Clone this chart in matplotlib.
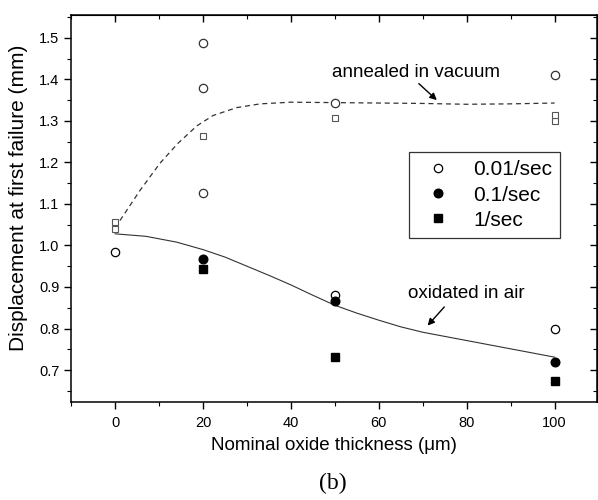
import numpy as np
from matplotlib import pyplot as plt
from matplotlib.ticker import MultipleLocator

plt.rcParams['font.family'] = ['Liberation Sans', 'DejaVu Sans']

# annealed in vacuum
vac_circ_x = [20, 20, 20, 50, 100]
vac_circ_y = [1.487, 1.379, 1.126, 1.342, 1.410]
vac_sq_x = [0, 0, 20, 50, 100, 100]
vac_sq_y = [1.040, 1.057, 1.263, 1.306, 1.300, 1.315]
vac_curve_x = [1.1, 5.7, 10.2, 14.3, 18.6, 22.3, 27.7, 33.0, 40.0, 50.0, 60.0, 70.0, 80.0, 90.0, 100.0]
vac_curve_y = [1.060, 1.133, 1.198, 1.246, 1.288, 1.313, 1.332, 1.341, 1.345, 1.344, 1.343, 1.342, 1.340, 1.341, 1.343]

# oxidated in air
slow_x = [0, 50, 100]
slow_y = [0.985, 0.880, 0.798]
mid_x = [20, 50, 100]
mid_y = [0.967, 0.867, 0.719]
fast_x = [20, 50, 100]
fast_y = [0.943, 0.732, 0.674]
air_curve_x = [0, 7, 14, 20, 25, 30, 35, 40, 45, 50, 55, 60, 65, 70, 80, 90, 100]
air_curve_y = [1.028, 1.022, 1.008, 0.990, 0.972, 0.950, 0.928, 0.905, 0.880, 0.856, 0.837,
               0.820, 0.804, 0.791, 0.771, 0.751, 0.731]

legend_labels = ['0.01/sec', '0.1/sec', '1/sec']

fig = plt.figure(figsize=(5.98, 5.0), dpi=100)
ax = fig.add_axes([0.119, 0.196, 0.879, 0.774])

ax.plot(vac_curve_x, vac_curve_y, '--', color='#333333', linewidth=0.9, dashes=(4, 3))
ax.plot(air_curve_x, air_curve_y, '-', color='#333333', linewidth=0.8)

ax.plot(vac_circ_x, vac_circ_y, 'o', markerfacecolor='white', markeredgecolor='#333333',
        markersize=6, markeredgewidth=0.9, linestyle='none')
ax.plot(vac_sq_x, vac_sq_y, 's', markerfacecolor='white', markeredgecolor='#555555',
        markersize=5, markeredgewidth=0.8, linestyle='none')

h1, = ax.plot(slow_x, slow_y, 'o', markerfacecolor='white', markeredgecolor='black',
              markersize=6, markeredgewidth=0.9, linestyle='none')
h2, = ax.plot(mid_x, mid_y, 'o', color='black', markersize=6.2, linestyle='none')
h3, = ax.plot(fast_x, fast_y, 's', color='black', markersize=5.3, linestyle='none')

ax.annotate('annealed in vacuum', xy=(73.2, 1.350), xytext=(49.3, 1.417),
            fontsize=13.5, va='center', ha='left',
            arrowprops=dict(arrowstyle='-|>', color='black', lw=1.0, shrinkA=0, shrinkB=0,
                            mutation_scale=10, relpos=(0.5, 0)))
ax.annotate('oxidated in air', xy=(71.1, 0.807), xytext=(66.6, 0.884),
            fontsize=13.5, va='center', ha='left',
            arrowprops=dict(arrowstyle='-|>', color='black', lw=1.0, shrinkA=2, shrinkB=0,
                            mutation_scale=10, relpos=(0.35, 0)))

leg = ax.legend([h1, h2, h3], legend_labels, loc='upper left', bbox_to_anchor=(0.6426, 0.646),
                borderaxespad=0, fontsize=15, frameon=True, fancybox=False, edgecolor='black',
                handletextpad=0.7, labelspacing=0.3, borderpad=0.38, handlelength=2.0,
                handleheight=0.8)
leg.get_frame().set_linewidth(0.9)

ax.set_xlim(-10, 109.6)
ax.set_ylim(0.623, 1.555)
ax.xaxis.set_major_locator(MultipleLocator(20))
ax.xaxis.set_minor_locator(MultipleLocator(10))
ax.yaxis.set_major_locator(MultipleLocator(0.1))
ax.yaxis.set_minor_locator(MultipleLocator(0.05))
ax.yaxis.set_major_formatter(plt.FormatStrFormatter('%.1f'))

ax.tick_params(which='both', direction='out', top=False, right=False, labelsize=10.5)
ax.tick_params(axis='x', pad=5)
ax.tick_params(which='major', length=5, width=1)
ax.tick_params(which='minor', length=3, width=0.8)
for spine in ax.spines.values():
    spine.set_linewidth(1.1)

# inward ticks on top and right
sec_x = ax.secondary_xaxis('top')
sec_x.xaxis.set_major_locator(MultipleLocator(20))
sec_x.xaxis.set_minor_locator(MultipleLocator(10))
sec_x.tick_params(which='both', direction='in', labeltop=False)
sec_x.tick_params(which='major', length=5, width=1)
sec_x.tick_params(which='minor', length=3, width=0.8)
sec_y = ax.secondary_yaxis('right')
sec_y.yaxis.set_major_locator(MultipleLocator(0.1))
sec_y.yaxis.set_minor_locator(MultipleLocator(0.05))
sec_y.tick_params(which='both', direction='in', labelright=False)
sec_y.tick_params(which='major', length=5, width=1)
sec_y.tick_params(which='minor', length=3, width=0.8)

ax.set_xlabel('Nominal oxide thickness (\u03bcm)', fontsize=13.5, labelpad=5)
ax.set_ylabel('Displacement at first failure (mm)', fontsize=15, labelpad=5)
ax.yaxis.set_label_coords(-0.082, 0.528)

fig.text(0.557, 0.012, '(b)', fontsize=17, family='Liberation Serif', ha='center', va='bottom')

fig.savefig('out.png', dpi=100)
